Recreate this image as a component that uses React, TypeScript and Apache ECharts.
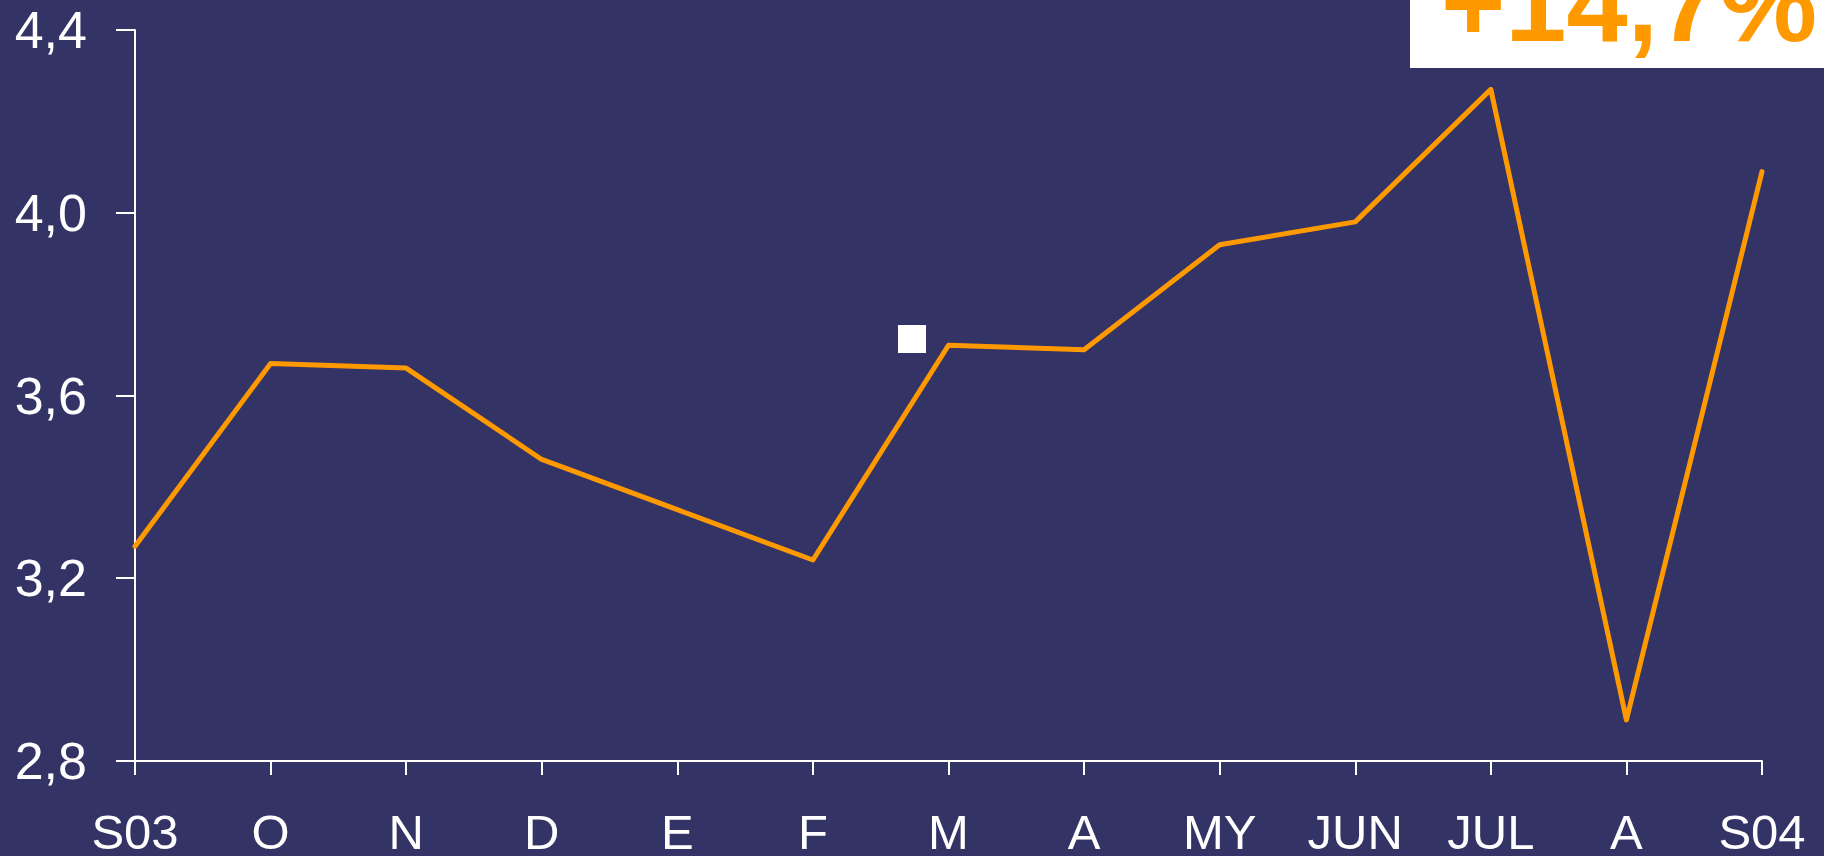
import React, { useEffect, useRef } from "react";
import * as echarts from "echarts";

const categories = ["S03", "O", "N", "D", "E", "F", "M", "A", "MY", "JUN", "JUL", "A", "S04"];
const values = [3.27, 3.67, 3.66, 3.46, 3.35, 3.24, 3.71, 3.70, 3.93, 3.98, 4.27, 2.89, 4.09];
const yTicks = [2.8, 3.2, 3.6, 4.0, 4.4];
const badgeText = "+14,7%";

export default function App() {
  const ref = useRef<HTMLDivElement>(null);
  useEffect(() => {
    if (!ref.current) return;
    const chart = echarts.init(ref.current, undefined, { renderer: "svg" });
    const badgeSize = 110;
    chart.setOption({
      animation: false,
      backgroundColor: "#333366",
      grid: { left: 135, right: 62, top: 30, bottom: 91, containLabel: false },
      xAxis: {
        type: "category",
        data: categories,
        boundaryGap: false,
        axisLine: { lineStyle: { color: "#ffffff", width: 2 } },
        axisTick: { alignWithLabel: true, length: 14, lineStyle: { color: "#ffffff", width: 2 } },
        axisLabel: {
          color: "#ffffff",
          fontSize: 49,
          fontFamily: "Liberation Sans, Arial, sans-serif",
          margin: 46,
          interval: 0,
        },
        splitLine: { show: false },
      },
      yAxis: {
        type: "value",
        min: yTicks[0],
        max: yTicks[yTicks.length - 1],
        interval: 0.4,
        axisLine: { show: true, lineStyle: { color: "#ffffff", width: 2 } },
        axisTick: { show: true, length: 19, lineStyle: { color: "#ffffff", width: 2 } },
        axisLabel: {
          color: "#ffffff",
          fontSize: 52,
          fontFamily: "Liberation Sans, Arial, sans-serif",
          margin: 48,
          formatter: (v: number) => v.toFixed(1).replace(".", ","),
        },
        splitLine: { show: false },
      },
      series: [
        {
          type: "line",
          data: values,
          showSymbol: false,
          lineStyle: { color: "#FF9900", width: 5, cap: "round", join: "round" },
        },
      ],
      graphic: [
        { type: "rect", left: 898, top: 325, shape: { width: 28, height: 28 }, style: { fill: "#ffffff" } },
        { type: "rect", shape: { x: 1410, y: 0, width: 414, height: 68 }, style: { fill: "#ffffff" }, z: 10 },
        {
          type: "text",
          x: 1441,
          y: 40.5 - 0.3465 * badgeSize,
          z: 11,
          style: {
            text: badgeText,
            fill: "#FF9900",
            font: `bold ${badgeSize}px 'Liberation Sans', Arial, sans-serif`,
            verticalAlign: "middle",
            align: "left",
          },
        },
      ],
    });
    return () => chart.dispose();
  }, []);
  return <div ref={ref} style={{ position: "fixed", left: 0, top: 0, width: 1824, height: 856 }} />;
}
